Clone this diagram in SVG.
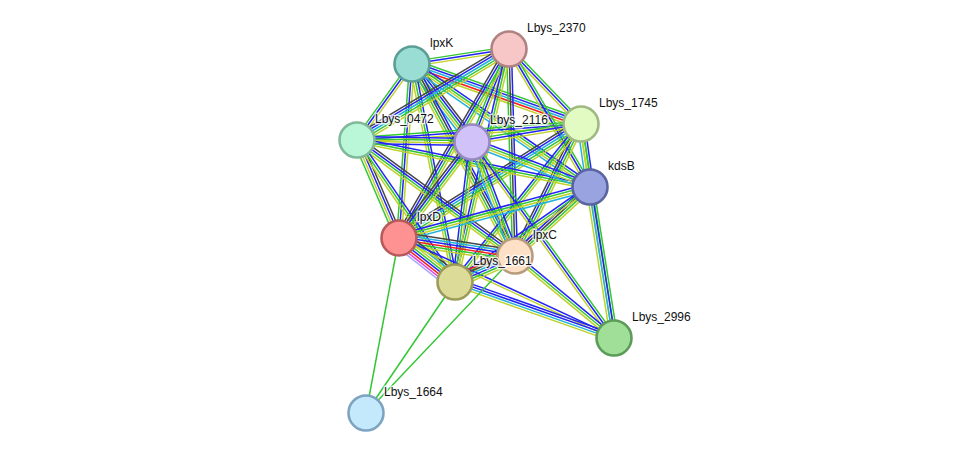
<svg xmlns="http://www.w3.org/2000/svg" xmlns:xlink="http://www.w3.org/1999/xlink" width="975" height="459" viewBox="0 0 975 459">
<style>
.ed use{fill:none;stroke-width:1.5}
.g{stroke:#33c633}.b{stroke:#2323f5}.y{stroke:#bfd22a}.k{stroke:#464646}.c{stroke:#22b2dc}.r{stroke:#f52020}.m{stroke:#e040e0}.l{stroke:#a8a8ff}
.nd circle{stroke-width:2.6}
.nd text{font-family:"Liberation Sans",Arial,sans-serif;font-size:12px;fill:#111;stroke:#fff;stroke-width:3;stroke-opacity:0.75;paint-order:stroke;stroke-linejoin:round}
</style>
<defs>
<path id="KA" d="M412 64L509 49"/><path id="KF" d="M412 64L581 124"/><path id="KS" d="M412 64L472 142"/><path id="KB" d="M412 64L590 187"/><path id="KO" d="M412 64L357 140"/><path id="KD" d="M412 64L399 238"/><path id="KC" d="M412 64L515 256"/><path id="KL" d="M412 64L455 282"/>
<path id="AF" d="M509 49L581 124"/><path id="AO" d="M509 49L357 140"/><path id="AS" d="M509 49L472 142"/><path id="AB" d="M509 49L590 187"/><path id="AD" d="M509 49L399 238"/><path id="AC" d="M509 49L515 256"/><path id="AL" d="M509 49L455 282"/>
<path id="FO" d="M581 124L357 140"/><path id="FS" d="M581 124L472 142"/><path id="FB" d="M581 124L590 187"/><path id="FD" d="M581 124L399 238"/><path id="FC" d="M581 124L515 256"/><path id="FL" d="M581 124L455 282"/><path id="FN" d="M581 124L614 338"/>
<path id="OS" d="M357 140L472 142"/><path id="OB" d="M357 140L590 187"/><path id="OD" d="M357 140L399 238"/><path id="OC" d="M357 140L515 256"/><path id="OL" d="M357 140L455 282"/>
<path id="SB" d="M472 142L590 187"/><path id="SD" d="M472 142L399 238"/><path id="SC" d="M472 142L515 256"/><path id="SL" d="M472 142L455 282"/><path id="SN" d="M472 142L614 338"/>
<path id="BD" d="M590 187L399 238"/><path id="BC" d="M590 187L515 256"/><path id="BL" d="M590 187L455 282"/><path id="BN" d="M590 187L614 338"/>
<path id="DC" d="M399 238L515 256"/><path id="DL" d="M399 238L455 282"/><path id="DN" d="M399 238L614 338"/>
<path id="CL" d="M515 256L455 282"/><path id="CN" d="M515 256L614 338"/><path id="LN" d="M455 282L614 338"/>
<path id="MD" d="M366 413L399 238"/><path id="ML" d="M366 413L455 282"/><path id="MC" d="M366 413L515 256"/>
</defs>
<g id="edges" class="ed">
<use href="#KA" class="g" transform="translate(-0.37 -2.37)"/><use href="#KA" class="b"/><use href="#KA" class="y" transform="translate(0.37 2.37)"/>
<use href="#KF" class="g" transform="translate(1.6 -4.52)"/><use href="#KF" class="b" transform="translate(0.8 -2.26)"/><use href="#KF" class="c"/><use href="#KF" class="r" transform="translate(-0.8 2.26)"/><use href="#KF" class="y" transform="translate(-1.6 4.52)"/>
<use href="#KS" class="k" transform="translate(3.8 -2.92)"/><use href="#KS" class="b" transform="translate(1.9 -1.46)"/><use href="#KS" class="g"/><use href="#KS" class="y" transform="translate(-1.9 1.46)"/><use href="#KS" class="c" transform="translate(-3.8 2.92)"/>
<use href="#KB" class="b" transform="translate(2.04 -2.96)"/><use href="#KB" class="g" transform="translate(0.68 -0.99)"/><use href="#KB" class="y" transform="translate(-0.68 0.99)"/><use href="#KB" class="c" transform="translate(-2.04 2.96)"/>
<use href="#KO" class="g" transform="translate(-1.94 -1.41)"/><use href="#KO" class="b"/><use href="#KO" class="y" transform="translate(1.94 1.41)"/>
<use href="#KD" class="g" transform="translate(-2.39 -0.18)"/><use href="#KD" class="b"/><use href="#KD" class="y" transform="translate(2.39 0.18)"/>
<use href="#KC" class="b" transform="translate(3.17 -1.7)"/><use href="#KC" class="k" transform="translate(1.06 -0.57)"/><use href="#KC" class="g" transform="translate(-1.06 0.57)"/><use href="#KC" class="y" transform="translate(-3.17 1.7)"/>
<use href="#KL" class="b" transform="translate(2.35 -0.46)"/><use href="#KL" class="g"/><use href="#KL" class="y" transform="translate(-2.35 0.46)"/>
<use href="#AF" class="g" transform="translate(1.73 -1.66)"/><use href="#AF" class="b"/><use href="#AF" class="y" transform="translate(-1.73 1.66)"/>
<use href="#AO" class="k" transform="translate(-2.46 -4.12)"/><use href="#AO" class="b" transform="translate(-1.23 -2.06)"/><use href="#AO" class="c"/><use href="#AO" class="g" transform="translate(1.23 2.06)"/><use href="#AO" class="y" transform="translate(2.46 4.12)"/>
<use href="#AS" class="g" transform="translate(-2.23 -0.89)"/><use href="#AS" class="b"/><use href="#AS" class="y" transform="translate(2.23 0.89)"/>
<use href="#AB" class="g" transform="translate(2.07 -1.22)"/><use href="#AB" class="b"/><use href="#AB" class="y" transform="translate(-2.07 1.22)"/>
<use href="#AD" class="k" transform="translate(-3.11 -1.82)"/><use href="#AD" class="b" transform="translate(-1.04 -0.61)"/><use href="#AD" class="g" transform="translate(1.04 0.61)"/><use href="#AD" class="y" transform="translate(3.11 1.82)"/>
<use href="#AC" class="b" transform="translate(2.4 -0.07)"/><use href="#AC" class="k"/><use href="#AC" class="g" transform="translate(-2.4 0.07)"/>
<use href="#AL" class="b" transform="translate(-2.34 -0.54)"/><use href="#AL" class="g"/><use href="#AL" class="y" transform="translate(2.34 0.54)"/>
<use href="#FO" class="g" transform="translate(-0.17 -2.39)"/><use href="#FO" class="b"/><use href="#FO" class="y" transform="translate(0.17 2.39)"/>
<use href="#FS" class="g" transform="translate(-0.39 -2.37)"/><use href="#FS" class="b"/><use href="#FS" class="y" transform="translate(0.39 2.37)"/>
<use href="#FB" class="b" transform="translate(3.57 -0.51)"/><use href="#FB" class="g" transform="translate(1.19 -0.17)"/><use href="#FB" class="y" transform="translate(-1.19 0.17)"/><use href="#FB" class="c" transform="translate(-3.57 0.51)"/>
<use href="#FD" class="k" transform="translate(-2.54 -4.06)"/><use href="#FD" class="b" transform="translate(-1.27 -2.03)"/><use href="#FD" class="c"/><use href="#FD" class="g" transform="translate(1.27 2.03)"/><use href="#FD" class="y" transform="translate(2.54 4.06)"/>
<use href="#FC" class="k" transform="translate(-3.23 -1.61)"/><use href="#FC" class="b" transform="translate(-1.08 -0.54)"/><use href="#FC" class="g" transform="translate(1.08 0.54)"/><use href="#FC" class="y" transform="translate(3.23 1.61)"/>
<use href="#FL" class="b" transform="translate(-1.88 -1.5)"/><use href="#FL" class="g"/><use href="#FL" class="y" transform="translate(1.88 1.5)"/>
<use href="#FN" class="g" transform="translate(1.19 -0.19)"/><use href="#FN" class="y" transform="translate(-1.19 0.19)"/>
<use href="#OS" class="b" transform="translate(0 -3.6)"/><use href="#OS" class="g" transform="translate(0 -1.2)"/><use href="#OS" class="y" transform="translate(0 1.2)"/><use href="#OS" class="b" transform="translate(0 3.6)"/>
<use href="#OB" class="b" transform="translate(0.47 -2.35)"/><use href="#OB" class="g"/><use href="#OB" class="y" transform="translate(-0.47 2.35)"/>
<use href="#OD" class="k" transform="translate(3.32 -1.43)"/><use href="#OD" class="b" transform="translate(1.11 -0.48)"/><use href="#OD" class="y" transform="translate(-1.11 0.48)"/><use href="#OD" class="g" transform="translate(-3.32 1.43)"/>
<use href="#OC" class="k" transform="translate(2.13 -2.9)"/><use href="#OC" class="b" transform="translate(0.71 -0.97)"/><use href="#OC" class="g" transform="translate(-0.71 0.97)"/><use href="#OC" class="y" transform="translate(-2.13 2.9)"/>
<use href="#OL" class="b" transform="translate(1.98 -1.36)"/><use href="#OL" class="g"/><use href="#OL" class="y" transform="translate(-1.98 1.36)"/>
<use href="#SB" class="b" transform="translate(1.29 -3.36)"/><use href="#SB" class="g" transform="translate(0.43 -1.12)"/><use href="#SB" class="y" transform="translate(-0.43 1.12)"/><use href="#SB" class="c" transform="translate(-1.29 3.36)"/>
<use href="#SD" class="k" transform="translate(-2.87 -2.18)"/><use href="#SD" class="b" transform="translate(-0.96 -0.73)"/><use href="#SD" class="g" transform="translate(0.96 0.73)"/><use href="#SD" class="y" transform="translate(2.87 2.18)"/>
<use href="#SC" class="b" transform="translate(3.38 -1.28)"/><use href="#SC" class="g" transform="translate(1.13 -0.43)"/><use href="#SC" class="y" transform="translate(-1.13 0.43)"/><use href="#SC" class="c" transform="translate(-3.38 1.28)"/>
<use href="#SL" class="b" transform="translate(-2.38 -0.29)"/><use href="#SL" class="g"/><use href="#SL" class="y" transform="translate(2.38 0.29)"/>
<use href="#SN" class="g" transform="translate(1.94 -1.41)"/><use href="#SN" class="b"/><use href="#SN" class="y" transform="translate(-1.94 1.41)"/>
<use href="#BD" class="b" transform="translate(-0.93 -3.48)"/><use href="#BD" class="g" transform="translate(-0.31 -1.16)"/><use href="#BD" class="y" transform="translate(0.31 1.16)"/><use href="#BD" class="c" transform="translate(0.93 3.48)"/>
<use href="#BC" class="b" transform="translate(-2.43 -2.66)"/><use href="#BC" class="k" transform="translate(-0.81 -0.89)"/><use href="#BC" class="g" transform="translate(0.81 0.89)"/><use href="#BC" class="y" transform="translate(2.43 2.66)"/>
<use href="#BL" class="b" transform="translate(-1.38 -1.96)"/><use href="#BL" class="g"/><use href="#BL" class="y" transform="translate(1.38 1.96)"/>
<use href="#BN" class="g" transform="translate(3.56 -0.57)"/><use href="#BN" class="b" transform="translate(1.19 -0.19)"/><use href="#BN" class="c" transform="translate(-1.19 0.19)"/><use href="#BN" class="y" transform="translate(-3.56 0.57)"/>
<use href="#DC" class="k" transform="translate(0.93 -5.93)"/><use href="#DC" class="c" transform="translate(0.56 -3.56)"/><use href="#DC" class="b" transform="translate(0.19 -1.19)"/><use href="#DC" class="r" transform="translate(-0.19 1.19)"/><use href="#DC" class="g" transform="translate(-0.56 3.56)"/><use href="#DC" class="y" transform="translate(-0.93 5.93)"/>
<use href="#DL" class="k" transform="translate(5.18 -6.62)"/><use href="#DL" class="c" transform="translate(3.7 -4.73)"/><use href="#DL" class="y" transform="translate(2.22 -2.84)"/><use href="#DL" class="g" transform="translate(0.74 -0.95)"/><use href="#DL" class="b" transform="translate(-0.74 0.95)"/><use href="#DL" class="r" transform="translate(-2.22 2.84)"/><use href="#DL" class="m" transform="translate(-3.7 4.73)"/><use href="#DL" class="l" transform="translate(-5.18 6.62)"/>
<use href="#DN" class="b" transform="translate(0.51 -1.09)"/><use href="#DN" class="y" transform="translate(-0.51 1.09)"/>
<use href="#CL" class="r" transform="translate(-2.38 -5.5)"/><use href="#CL" class="k" transform="translate(-1.43 -3.3)"/><use href="#CL" class="c" transform="translate(-0.48 -1.1)"/><use href="#CL" class="b" transform="translate(0.48 1.1)"/><use href="#CL" class="g" transform="translate(1.43 3.3)"/><use href="#CL" class="y" transform="translate(2.38 5.5)"/>
<use href="#CN" class="b" transform="translate(1.53 -1.85)"/><use href="#CN" class="g"/><use href="#CN" class="y" transform="translate(-1.53 1.85)"/>
<use href="#LN" class="b" transform="translate(1.2 -3.39)"/><use href="#LN" class="b" transform="translate(0.4 -1.13)"/><use href="#LN" class="c" transform="translate(-0.4 1.13)"/><use href="#LN" class="y" transform="translate(-1.2 3.39)"/>
<use href="#MD" class="g"/><use href="#ML" class="g"/><use href="#MC" class="g"/>
</g>
<g class="nd">
<g id="lpxK"><circle cx="412" cy="64" r="17.5" fill="#99ddd4" stroke="#5a9e96"/><text x="430" y="47">lpxK</text></g>
<g id="Lbys_2370"><circle cx="509" cy="49" r="17.5" fill="#f7c6c6" stroke="#b08282"/><text x="527" y="32">Lbys_2370</text></g>
<g id="Lbys_1745"><circle cx="581" cy="124" r="17.5" fill="#e1fbc2" stroke="#a0b982"/><text x="599" y="107">Lbys_1745</text></g>
<g id="Lbys_0472"><circle cx="357" cy="140" r="17.5" fill="#baf6d8" stroke="#80b898"/><text x="375" y="123">Lbys_0472</text></g>
<g id="Lbys_2116"><circle cx="472" cy="142" r="17.5" fill="#d2c2fa" stroke="#9888c0"/><text x="490" y="124">Lbys_2116</text></g>
<g id="kdsB"><circle cx="590" cy="187" r="17.5" fill="#98a3df" stroke="#5a64a0"/><text x="608" y="170">kdsB</text></g>
<g id="lpxD"><circle cx="399" cy="238" r="17.5" fill="#fe9292" stroke="#b85a5a"/><text x="417" y="221">lpxD</text></g>
<g id="lpxC"><circle cx="515" cy="256" r="17.5" fill="#fde0c5" stroke="#b89a7c"/><text x="533" y="239">lpxC</text></g>
<g id="Lbys_1661"><circle cx="455" cy="282" r="17.5" fill="#dcdb98" stroke="#9c9b5a"/><text x="473" y="265">Lbys_1661</text></g>
<g id="Lbys_2996"><circle cx="614" cy="338" r="17.5" fill="#9fdf98" stroke="#5c9c58"/><text x="632" y="321">Lbys_2996</text></g>
<g id="Lbys_1664"><circle cx="366" cy="413" r="17.5" fill="#c4e8fc" stroke="#7ca4c0"/><text x="384" y="396">Lbys_1664</text></g>
</g>
</svg>
